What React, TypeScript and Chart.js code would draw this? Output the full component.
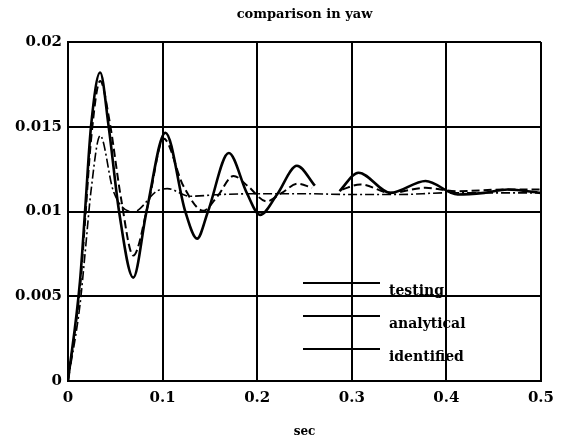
import React, { useEffect, useRef } from 'react';
import { Chart, registerables } from 'chart.js';

Chart.register(...registerables);

const TITLE = 'comparison in yaw';
const X_LABEL = 'sec';
const X_TICKS = [0, 0.1, 0.2, 0.3, 0.4, 0.5];
const X_TICK_LABELS = ['0', '0.1', '0.2', '0.3', '0.4', '0.5'];
const Y_TICKS = [0, 0.005, 0.01, 0.015, 0.02];
const Y_TICK_LABELS = ['0', '0.005', '0.01', '0.015', '0.02'];
const SERIES_NAMES = ['testing', 'analytical', 'identified'];

const TESTING_T = [0, 0.0127, 0.018, 0.0243, 0.034, 0.043, 0.054, 0.069, 0.083, 0.103, 0.124, 0.1365, 0.148, 0.17, 0.189, 0.203, 0.221, 0.242, 0.261, 0.274, 0.287, 0.307, 0.341, 0.378, 0.412, 0.44, 0.465, 0.5];
const TESTING_Y = [0, 0.0059, 0.01, 0.015, 0.0182, 0.015, 0.01, 0.0061, 0.01, 0.01465, 0.01, 0.0084, 0.01, 0.01345, 0.0111, 0.0098, 0.011, 0.0127, 0.01152, null, 0.0112, 0.01229, 0.0111, 0.0118, 0.011, 0.0111, 0.0113, 0.0111];

const ANALYTICAL_T = [0, 0.0127, 0.018, 0.0243, 0.034, 0.044, 0.056, 0.069, 0.085, 0.101, 0.122, 0.143, 0.158, 0.175, 0.19, 0.21, 0.226, 0.243, 0.258, 0.274, 0.29, 0.309, 0.341, 0.378, 0.41, 0.465, 0.5];
const ANALYTICAL_Y = [0, 0.0055, 0.0094, 0.0142, 0.0177, 0.0153, 0.0108, 0.0074, 0.0105, 0.0143, 0.0115, 0.01005, 0.0109, 0.0121, 0.0115, 0.0106, 0.0111, 0.01164, 0.0114, null, 0.0113, 0.0116, 0.0111, 0.0114, 0.0112, 0.0113, 0.0113];

const IDENTIFIED_T = [0, 0.0127, 0.018, 0.0243, 0.034, 0.048, 0.069, 0.094, 0.105, 0.129, 0.16, 0.2, 0.25, 0.3, 0.35, 0.4, 0.45, 0.5];
const IDENTIFIED_Y = [0, 0.0045, 0.0075, 0.0112, 0.01447, 0.0112, 0.00997, 0.0112, 0.01135, 0.0109, 0.011, 0.01105, 0.01105, 0.011, 0.011, 0.0111, 0.0111, 0.0111];

const toPoints = (ts: number[], ys: (number | null)[]) => ts.map((t, i) => ({ x: t, y: ys[i] }));

const overlayPlugin = {
  id: 'overlay',
  afterDraw(chart: any) {
    const { ctx, chartArea } = chart;
    ctx.save();
    ctx.fillStyle = '#000';
    ctx.strokeStyle = '#000';
    ctx.font = 'bold 13px "DejaVu Serif"';
    ctx.textAlign = 'center';
    ctx.textBaseline = 'middle';
    ctx.fillText(TITLE, (chartArea.left + chartArea.right) / 2, 15);
    ctx.font = 'bold 14px "DejaVu Serif"';
    ctx.textAlign = 'left';
    chart.data.datasets.forEach((ds: any, i: number) => {
      const y = chartArea.top + 241 + i * 33;
      ctx.beginPath();
      ctx.lineWidth = 1.8;
      ctx.setLineDash([]);
      ctx.moveTo(chartArea.left + 235, y);
      ctx.lineTo(chartArea.left + 312, y);
      ctx.stroke();
      ctx.fillText(ds.label, chartArea.left + 321, y + 8);
    });
    ctx.restore();
  },
};

export default function App() {
  const canvasRef = useRef<HTMLCanvasElement | null>(null);

  useEffect(() => {
    document.body.style.margin = '0';
    const canvas = canvasRef.current;
    if (!canvas) return;
    const tickFont = { family: '"DejaVu Serif"', size: 15, weight: 'bold' as const };
    const chart = new Chart(canvas, {
      type: 'line',
      data: {
        datasets: [
          {
            label: SERIES_NAMES[0],
            data: toPoints(TESTING_T, TESTING_Y),
            borderColor: '#000',
            borderWidth: 2.6,
            pointRadius: 0,
            cubicInterpolationMode: 'monotone',
            spanGaps: false,
          },
          {
            label: SERIES_NAMES[1],
            data: toPoints(ANALYTICAL_T, ANALYTICAL_Y),
            borderColor: '#000',
            borderWidth: 2,
            borderDash: [8, 4],
            pointRadius: 0,
            cubicInterpolationMode: 'monotone',
            spanGaps: false,
          },
          {
            label: SERIES_NAMES[2],
            data: toPoints(IDENTIFIED_T, IDENTIFIED_Y),
            borderColor: '#000',
            borderWidth: 1.6,
            borderDash: [9, 3, 2, 3],
            pointRadius: 0,
            cubicInterpolationMode: 'monotone',
            spanGaps: false,
          },
        ],
      },
      options: {
        animation: false,
        responsive: true,
        maintainAspectRatio: false,
        layout: { padding: { left: 0, right: 21, top: 42, bottom: 0 } },
        plugins: {
          legend: { display: false },
          title: { display: false },
          tooltip: { enabled: false },
        },
        scales: {
          x: {
            type: 'linear',
            min: 0,
            max: 0.5,
            afterFit: (s: any) => { s.height = 65; },
            afterBuildTicks: (s: any) => { s.ticks = X_TICKS.map((v) => ({ value: v })); },
            ticks: {
              color: '#000',
              font: tickFont,
              padding: 8,
              maxRotation: 0,
              autoSkip: false,
              callback: (v: any) => {
                const i = X_TICKS.findIndex((t) => Math.abs(t - Number(v)) < 1e-9);
                return i >= 0 ? X_TICK_LABELS[i] : '';
              },
            },
            grid: { color: '#000', lineWidth: 2, drawTicks: false },
            border: { color: '#000', width: 2 },
            title: {
              display: true,
              text: X_LABEL,
              color: '#000',
              font: { family: '"DejaVu Serif"', size: 12, weight: 'bold' },
              padding: { top: 0, bottom: 7 },
            },
          },
          y: {
            type: 'linear',
            min: 0,
            max: 0.02,
            afterFit: (s: any) => { s.width = 68; },
            afterBuildTicks: (s: any) => { s.ticks = Y_TICKS.map((v) => ({ value: v })); },
            ticks: {
              color: '#000',
              font: tickFont,
              padding: 6,
              autoSkip: false,
              callback: (v: any) => {
                const i = Y_TICKS.findIndex((t) => Math.abs(t - Number(v)) < 1e-9);
                return i >= 0 ? Y_TICK_LABELS[i] : '';
              },
            },
            grid: { color: '#000', lineWidth: 2, drawTicks: false },
            border: { color: '#000', width: 2 },
          },
        },
      },
      plugins: [overlayPlugin],
    });
    return () => chart.destroy();
  }, []);

  return (
    <div style={{ position: 'absolute', left: 0, top: 0, width: 562, height: 446, background: '#fff' }}>
      <canvas ref={canvasRef} />
    </div>
  );
}
